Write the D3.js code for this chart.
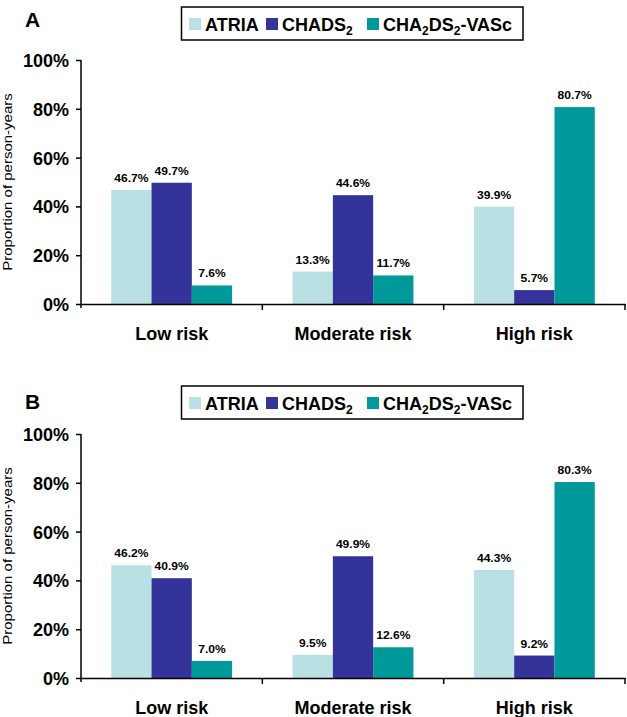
<!DOCTYPE html>
<html>
<head>
<meta charset="utf-8">
<script src="https://cdn.jsdelivr.net/npm/d3@7"></script>
<style>
  html, body { margin: 0; padding: 0; background: #fff; }
  svg text { font-family: "Liberation Sans", Arial, Helvetica, sans-serif; fill: #000; }
</style>
</head>
<body>
<svg id="chart" width="627" height="717"></svg>
<script>
const categories = ["Low risk", "Moderate risk", "High risk"];
const seriesNames = ["ATRIA", "CHADS2", "CHA2DS2-VASc"];
const colors = ["#b9e0e3", "#333399", "#009999"];
const yTicks = [0, 20, 40, 60, 80, 100];

// Panel A
const panelA_ATRIA = [46.7, 13.3, 39.9];
const panelA_CHADS2 = [49.7, 44.6, 5.7];
const panelA_CHA2DS2VASc = [7.6, 11.7, 80.7];
// Panel B
const panelB_ATRIA = [46.2, 9.5, 44.3];
const panelB_CHADS2 = [40.9, 49.9, 9.2];
const panelB_CHA2DS2VASc = [7.0, 12.6, 80.3];

const panels = [
  { letter: "A", top: 0, letterY: 27, legendTop: 7,
    series: [panelA_ATRIA, panelA_CHADS2, panelA_CHA2DS2VASc] },
  { letter: "B", top: 374, letterY: 35, legendTop: 12,
    series: [panelB_ATRIA, panelB_CHADS2, panelB_CHA2DS2VASc] }
];

const svg = d3.select("#chart");
const left = 81, right = 625;
const valueStretch = 1.15, labelStretch = 1.25;

function legendLabel(textSel, name) {
  const parts = name === "CHADS2" ? [["CHADS", 0], ["2", 1]]
    : name === "CHA2DS2-VASc" ? [["CHA", 0], ["2", 1], ["DS", 0], ["2", 1], ["-VASc", 0]]
    : [[name, 0]];
  let shifted = false;
  parts.forEach(([txt, sub]) => {
    const ts = textSel.append("tspan").text(txt);
    if (sub) { ts.attr("dy", 4).attr("font-size", "12px"); shifted = true; }
    else if (shifted) { ts.attr("dy", -4); shifted = false; }
  });
}

panels.forEach(p => {
  const g = svg.append("g").attr("transform", `translate(0,${p.top})`);
  const y = d3.scaleLinear().domain([0, 100]).range([304, 60]);
  const x0 = d3.scaleBand().domain(categories).range([left, right]).paddingInner(0).paddingOuter(0);
  const x1 = d3.scaleBand().domain(seriesNames).range([0, x0.bandwidth()]).paddingInner(0).paddingOuter(0.75);

  // Panel letter
  g.append("text").attr("x", 25).attr("y", p.letterY).attr("font-size", "21px").attr("font-weight", "bold").text(p.letter);

  // Legend
  const lt = p.legendTop;
  const lg = g.append("g");
  lg.append("rect").attr("x", 181.5).attr("y", lt).attr("width", 341.5).attr("height", 33)
    .attr("fill", "#fff").attr("stroke", "#000").attr("stroke-width", 1.5);
  const legendX = [189, 266, 367];
  seriesNames.forEach((s, i) => {
    lg.append("rect").attr("x", legendX[i]).attr("y", lt + 11).attr("width", 12).attr("height", 12).attr("fill", colors[i]);
    const t = lg.append("text").attr("x", legendX[i] + 16).attr("y", lt + 23.5)
      .attr("font-size", "18px").attr("font-weight", "bold");
    legendLabel(t, s);
  });

  // Bars
  const groups = g.append("g").selectAll("g").data(categories).join("g")
    .attr("transform", d => `translate(${x0(d)},0)`);
  groups.each(function(cat, ci) {
    const gg = d3.select(this);
    seriesNames.forEach((s, si) => {
      const v = p.series[si][ci];
      gg.append("rect").attr("x", x1(s)).attr("y", y(v)).attr("width", x1.bandwidth())
        .attr("height", y(0) - y(v)).attr("fill", colors[si]);
      gg.append("text")
        .attr("transform", `translate(${x1(s) + x1.bandwidth() / 2},${y(v) - 8}) scale(${valueStretch},1)`)
        .attr("text-anchor", "middle").attr("font-size", "10.5px").attr("font-weight", "bold")
        .text(v.toFixed(1) + "%");
    });
  });

  // Y axis
  const yAxis = d3.axisLeft(y).tickValues(yTicks).tickFormat(d => d + "%").tickSize(5).tickSizeOuter(0);
  const ya = g.append("g").attr("transform", `translate(${left},0)`).call(yAxis);
  ya.select(".domain").attr("stroke", "#000").attr("stroke-width", 1.5).attr("d", `M0,${y(100)}V${y(0) + 4}`);
  ya.selectAll(".tick line").attr("stroke", "#000").attr("stroke-width", 1.5);
  ya.selectAll(".tick text")
    .attr("x", -12).attr("dy", "0.36em")
    .style("font-size", "18px").style("font-weight", "bold").style("fill", "#000");

  // X axis
  const xAxis = d3.axisBottom(x0).tickSize(0).tickPadding(0).tickSizeOuter(0);
  const xa = g.append("g").attr("transform", `translate(0,${y(0)})`).call(xAxis);
  xa.select(".domain").attr("stroke", "#000").attr("stroke-width", 1.5);
  xa.selectAll(".tick text").attr("y", 36).attr("dy", null)
    .style("font-size", "18px").style("font-weight", "bold").style("fill", "#000");
  const bounds = categories.map(c => x0(c) + x0.bandwidth());
  xa.selectAll("line.bound").data(bounds).join("line").attr("class", "bound")
    .attr("x1", d => d).attr("x2", d => d).attr("y1", 0).attr("y2", 6)
    .attr("stroke", "#000").attr("stroke-width", 1.5);

  // Y label
  g.append("text").attr("transform", `translate(12,${(y(0) + y(100)) / 2}) rotate(-90) scale(${labelStretch},1)`)
    .attr("text-anchor", "middle").attr("font-size", "12px")
    .text("Proportion of person-years");
});
</script>
</body>
</html>
